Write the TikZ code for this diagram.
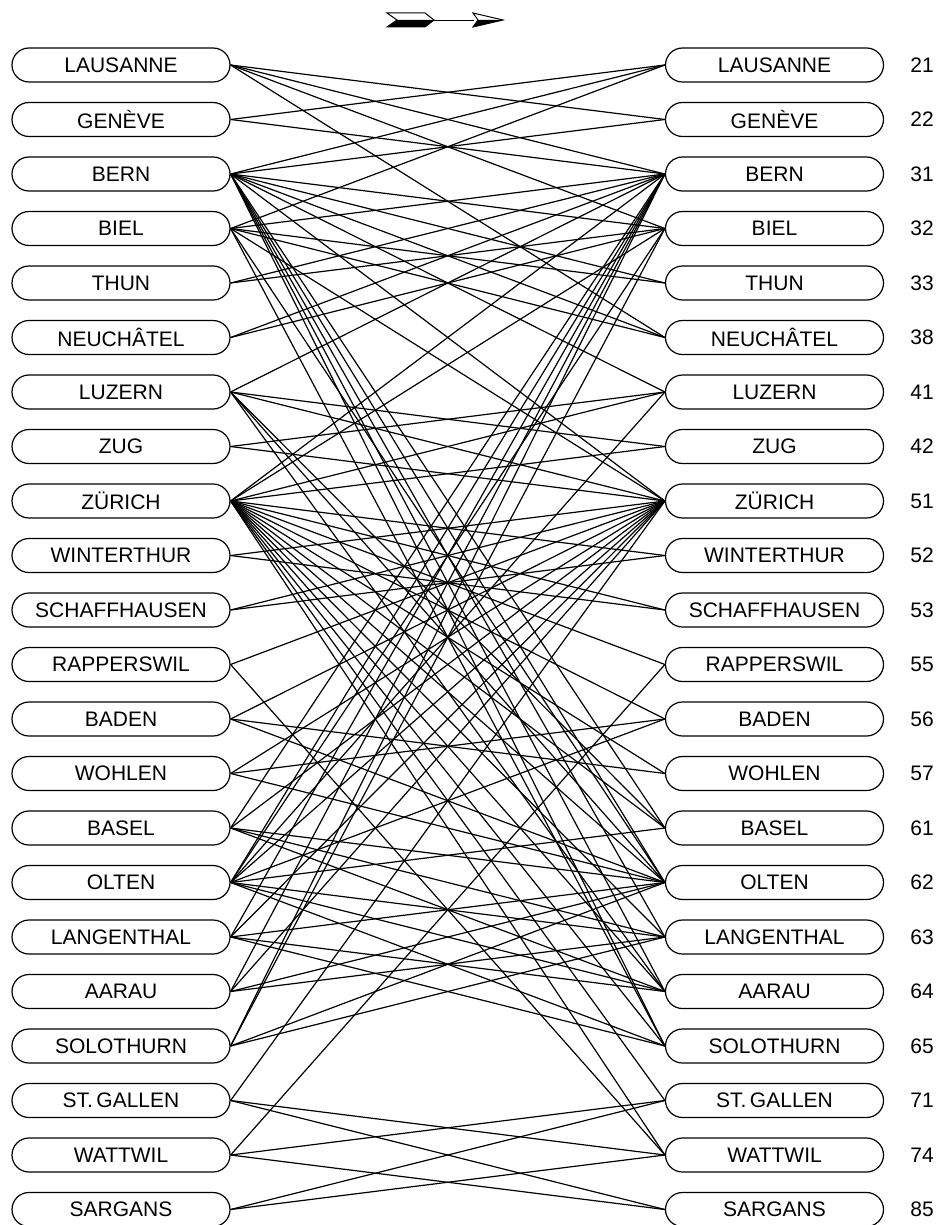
\documentclass[tikz,border=0pt]{standalone}
\usepackage{fontspec}
\setmainfont{Liberation Sans}
\usetikzlibrary{shapes.misc}

\begin{document}
\begin{tikzpicture}[x=0.5pt,y=-0.5pt]
		\tikzset{
			city/.style={draw,rounded rectangle,minimum width=109pt,minimum height=17pt,inner sep=0pt,line width=0.6pt,font=\fontsize{10.5}{12}\selectfont},
			link/.style={line width=0.6pt},
			code/.style={font=\fontsize{10.5}{12}\selectfont}
		}
		\useasboundingbox (0,0) rectangle (945,1225);

		% arrow on top
		\draw[line width=0.5pt] (387,13) -- (425,13) -- (434,20) -- (425,27) -- (387,27) -- (397,20) -- cycle;
		\fill (397,20) -- (434,20) -- (425,27) -- (387,27) -- cycle;
		\draw[line width=0.4pt] (434,20) -- (474,20);
		\draw[line width=0.5pt] (473,13) -- (503,20) -- (473,27) -- (478,20) -- cycle;
		\fill (478,20) -- (503,20) -- (473,27) -- cycle;

		\foreach \name [count=\i from 0] in {LAUSANNE,GENÈVE,BERN,BIEL,THUN,NEUCHÂTEL,LUZERN,ZUG,ZÜRICH,WINTERTHUR,SCHAFFHAUSEN,RAPPERSWIL,BADEN,WOHLEN,BASEL,OLTEN,LANGENTHAL,AARAU,SOLOTHURN,ST.\,GALLEN,WATTWIL,SARGANS}{
			\node[city] (l\i) at (121,{65+54.5*\i}) {\name};
			\node[city] (r\i) at (774.5,{65+54.5*\i}) {\name};
		}
		\foreach \n [count=\i from 0] in {21,22,31,32,33,38,41,42,51,52,53,55,56,57,61,62,63,64,65,71,74,85}
			\node[code] (n\i) at (922,{65+54.5*\i}) {\n};

		\foreach \a/\b in {0/1,0/2,0/3,0/5,
			1/0,1/2,
			2/0,2/1,2/3,2/4,2/5,2/6,2/8,2/14,2/15,2/16,2/17,2/18,
			3/0,3/2,3/4,3/5,3/8,3/15,3/18,
			4/2,4/3,
			5/2,5/3,
			6/2,6/7,6/8,6/14,6/15,6/17,
			7/6,7/8,
			8/2,8/3,8/6,8/7,8/9,8/10,8/11,8/12,8/13,8/14,8/15,8/16,8/17,8/18,8/19,8/20,
			9/8,9/10,
			10/8,10/9,
			11/8,11/20,
			12/8,12/13,12/15,
			13/8,13/12,13/15,
			14/2,14/8,14/15,14/16,14/17,
			15/2,15/3,15/6,15/8,15/12,15/14,15/16,15/17,15/18,
			16/2,16/8,16/15,16/17,16/18,
			17/2,17/8,17/15,17/16,
			18/2,18/3,18/15,18/16,
			19/8,19/20,19/21,
			20/11,20/19,20/21,
			21/19,21/20}
			\draw[link] (l\a.east) -- (r\b.west);
\end{tikzpicture}
\end{document}
